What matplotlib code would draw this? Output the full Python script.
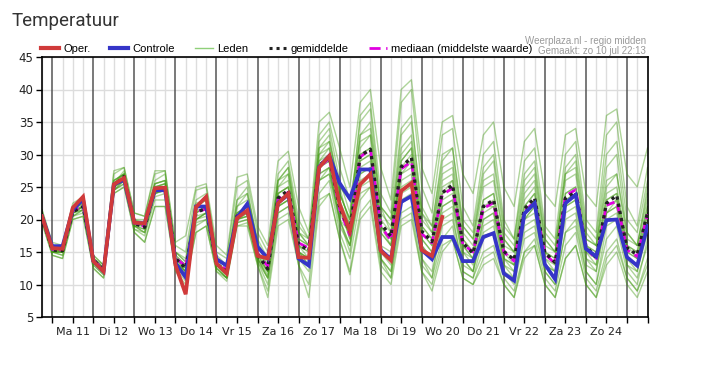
import numpy as np
import pandas as pd
import matplotlib
matplotlib.use("Agg")
import matplotlib.pyplot as plt
import matplotlib.dates as mdates
from matplotlib.lines import Line2D
from matplotlib.ticker import FuncFormatter

# 6-hourly steps, zo 10 jul 18:00 .. ma 25 jul 12:00
times = pd.date_range("2022-07-10 18:00", periods=60, freq="6h")

oper = [20.5, 15.6, 15.5, 21.8, 23.5, 13.6, 12.0, 25.4, 26.4, 19.5, 19.4, 24.8, 24.9, 13.0, 8.5,
        21.9, 23.5, 13.2, 11.7, 20.2, 21.4, 14.4, 14.0, 22.5, 24.0, 14.2, 14.1, 28.0, 29.8, 22.4,
        18.2, 25.4, 27.0, 15.2, 13.7, 24.4, 25.6, 15.3, 14.4, 20.4]

control = [20.5, 15.9, 15.9, 21.5, 23.1, 13.6, 12.0, 25.4, 26.1, 19.5, 19.4, 24.5, 24.5, 13.3, 11.1,
           22.0, 22.0, 13.9, 12.9, 20.3, 22.4, 15.8, 14.0, 22.6, 23.8, 14.0, 12.9, 28.1, 29.8, 25.6,
           23.2, 27.7, 27.7, 15.3, 13.9, 22.7, 23.6, 15.3, 13.9, 17.3, 17.3, 13.6, 13.6, 17.3, 17.9,
           11.7, 10.6, 20.9, 22.5, 13.1, 10.8, 22.5, 23.8, 15.5, 14.3, 19.9, 20.0, 14.2, 12.9, 19.0]

mean = [20.5, 15.3, 15.2, 21.2, 22.0, 13.8, 12.2, 25.2, 26.6, 19.4, 18.8, 24.6, 25.0, 14.0, 12.5,
        21.0, 21.8, 13.2, 12.0, 20.5, 21.4, 14.6, 12.4, 23.3, 24.5, 16.2, 15.2, 28.3, 29.6, 21.9,
        18.2, 29.8, 30.8, 19.4, 17.4, 28.1, 29.5, 18.2, 16.6, 24.1, 25.3, 16.4, 14.8, 22.0, 23.0,
        15.1, 13.8, 21.6, 23.3, 14.9, 13.4, 23.3, 24.2, 15.9, 14.1, 22.5, 23.7, 15.6, 14.6, 21.0]

median = [20.5, 15.4, 15.3, 21.3, 22.2, 13.8, 12.3, 25.3, 26.5, 19.5, 18.9, 24.5, 24.9, 14.1, 12.8,
          21.2, 21.6, 13.4, 12.2, 20.6, 21.2, 14.8, 12.8, 23.1, 24.2, 16.4, 15.6, 28.0, 29.4, 21.6,
          17.6, 29.6, 30.8, 19.0, 16.8, 27.8, 28.9, 17.8, 16.4, 23.8, 24.8, 16.2, 15.0, 21.7, 22.6,
          15.0, 13.6, 21.2, 22.8, 14.7, 13.2, 23.6, 24.6, 15.7, 13.8, 22.2, 22.8, 15.3, 14.3, 20.8]

# ensemble members ("Leden"), estimated from the plume
members = [
    [21, 16, 16, 22, 23, 14, 13, 26, 27, 20, 20, 26, 27, 15, 14,
     23, 24, 14, 13, 23, 25, 16, 13, 26, 28, 18, 16, 32, 34, 26,
     21, 35, 37, 22, 20, 34, 36, 21, 19, 29, 31, 19, 17, 27, 29,
     18, 16, 26, 28, 17, 15, 27, 29, 18, 16, 28, 30, 18, 16, 25],
    [20, 15, 14.5, 20.5, 21, 13, 11.5, 24.5, 25.5, 18.5, 17.5, 23, 23, 13, 11,
     19, 20, 12.5, 11, 19.5, 20, 13.5, 10, 21, 22, 14, 12, 24, 26, 18,
     14, 23, 25, 14, 12, 21, 22, 13, 11, 17, 19, 12, 11, 15, 16,
     11, 9, 15, 17, 11, 9, 16, 18, 11, 9, 15, 17, 11, 9, 14],
    [20.5, 16, 15.5, 21.5, 23, 13.5, 12, 25.5, 26, 19.5, 19.5, 24.5, 24.5, 13.5, 11.5,
     22, 22, 14, 13, 20.5, 22.5, 16, 14, 22.5, 24, 14, 13, 28, 30, 25,
     23, 27, 28, 15.5, 14, 22.5, 23.5, 15.5, 14, 17.5, 17.5, 13.5, 13.5, 17.5, 18,
     12, 10.5, 21, 22.5, 13, 11, 22.5, 24, 15.5, 14.5, 20, 20, 14, 13, 19],
    [21.5, 16, 15.5, 22, 23, 14.5, 13, 27, 28, 21, 20.5, 27, 27.5, 16, 15,
     24.5, 25, 15, 14, 25, 26, 18, 15, 27, 29, 20, 17, 33, 35, 28,
     23, 32, 33, 19, 16, 27, 29, 18, 16, 24, 26, 16, 14, 22, 23,
     15, 13, 22, 24, 15, 13, 23, 24, 16, 14, 23, 24, 16, 14, 21],
    [19.5, 14.5, 14, 20, 20.5, 12.5, 11, 24, 25, 18, 16.5, 22, 22, 12, 10,
     18, 19, 12, 10.5, 19, 19, 13, 8, 19, 20, 13, 8, 22, 24, 17,
     12, 21, 23, 13, 11, 20, 21, 12, 10, 16, 17, 11, 10, 14, 15,
     10, 8, 15, 16, 10, 8, 14, 16, 10, 8, 14, 16, 11, 9, 13],
    [21, 15.5, 15.5, 21.5, 22, 14, 12.5, 25.5, 27.5, 20, 19, 25.5, 26, 14.5, 13,
     21, 22, 13.5, 12, 21, 22, 15, 13, 25, 27, 17, 16, 31, 33, 24,
     20, 36, 38, 24, 21, 38, 40, 25, 21, 33, 34, 22, 19, 30, 32,
     20, 17, 29, 31, 19, 17, 30, 32, 20, 18, 33, 35, 22, 19, 28],
    [20, 15, 15, 21, 21.5, 13.5, 12, 25, 26, 19, 18.5, 24, 24.5, 14, 12.5,
     20, 21, 13, 11.5, 20, 21, 14.5, 12, 23, 24, 16, 15, 28, 29, 22,
     17, 30, 31, 19, 17, 28, 29, 18, 16, 24, 25, 16, 14, 21, 22,
     14, 13, 21, 23, 14, 13, 23, 24, 15, 14, 22, 23, 15, 14, 20],
    [20.5, 15.5, 15, 21, 22, 14, 12.5, 25, 26.5, 19.5, 19, 24.5, 25, 14, 12.5,
     21.5, 21.5, 13, 12, 20.5, 21, 14, 12, 24, 25, 15, 14, 27, 28, 20,
     16, 29, 30, 18, 16, 29, 31, 19, 17, 26, 27, 17, 15, 23, 24,
     16, 15, 22, 24, 15, 14, 24, 25, 16, 15, 24, 25, 16, 15, 22],
    [20, 15, 15, 21, 22, 13.5, 12, 24.5, 26, 19, 18, 24, 25, 13, 12,
     20, 21, 12.5, 11, 19.5, 20, 14, 11, 22, 23, 15, 13, 26, 27, 20,
     15, 26, 27, 15, 13, 25, 26, 16, 14, 21, 22, 14, 12, 19, 20,
     13, 11, 19, 20, 13, 11, 20, 21, 13, 12, 20, 21, 13, 12, 18],
    [21, 15.5, 15, 21.5, 22.5, 14, 12.5, 25.5, 27, 19.5, 19, 25, 25.5, 14.5, 13,
     22, 23, 14, 12.5, 22, 23, 16, 14, 25, 26, 18, 17, 30, 31, 24,
     20, 31, 33, 21, 19, 30, 32, 20, 18, 27, 28, 18, 16, 25, 26,
     17, 15, 24, 26, 16, 15, 26, 27, 17, 16, 26, 27, 17, 16, 24],
    [20.5, 15, 15, 21, 22, 13.5, 12, 25, 26, 19, 18.5, 24.5, 25, 13.5, 12,
     20.5, 21, 13, 11.5, 20, 21, 14.5, 12, 23, 24, 16, 15, 28, 29, 21,
     18, 28, 29, 19, 17, 27, 28, 17, 15, 23, 24, 15, 14, 22, 22,
     14, 13, 20, 22, 14, 12, 22, 23, 15, 13, 21, 23, 15, 14, 21],
    [20, 15, 14.5, 20.5, 21.5, 13, 11.5, 24.5, 25.5, 18.5, 18, 23.5, 24, 13, 11.5,
     19.5, 20, 12.5, 11, 20, 20.5, 13.5, 11, 21, 22, 15, 14, 26, 27, 19,
     16, 24, 25, 14, 12, 24, 25, 14, 12, 19, 20, 13, 12, 18, 19,
     12, 11, 18, 19, 12, 10, 18, 20, 12, 10, 17, 19, 12, 10, 17],
    [21, 16, 15.5, 22, 22.5, 14, 12, 26, 27, 19, 19.5, 25.5, 26, 14, 12,
     21, 22, 13, 12, 21, 22, 15, 12, 24, 25, 15, 13, 29, 31, 22,
     17, 25, 26, 14, 11, 23, 24, 14, 11, 20, 21, 12, 11, 17, 18,
     12, 10, 17, 18, 12, 10, 18, 19, 12, 10, 19, 20, 13, 11, 16],
    [20.5, 15.5, 15, 21, 22, 14, 12.5, 25.5, 26.5, 19.5, 19, 25, 25.5, 15, 13.5,
     22, 23, 14, 13, 22, 24, 17, 14, 26, 28, 19, 17, 30, 32, 25,
     19, 33, 35, 22, 18, 33, 35, 22, 19, 30, 31, 20, 18, 28, 30,
     19, 17, 27, 29, 18, 16, 28, 30, 19, 17, 30, 32, 20, 18, 26],
    [20, 15, 15, 21, 21.5, 13.5, 12, 25, 26, 19, 19, 24, 24.5, 13.5, 12,
     20, 21, 13, 11, 20, 20.5, 14, 11, 22, 23, 16, 14, 27, 28, 20,
     18, 29, 30, 18, 16, 28, 30, 17, 15, 22, 23, 15, 13, 20, 21,
     13, 12, 20, 21, 13, 12, 21, 22, 14, 13, 21, 22, 14, 13, 19],
    [21, 15.5, 15.5, 21.5, 22, 14, 12, 25.5, 27, 20, 19.5, 25, 25.5, 14, 12.5,
     21, 22, 13.5, 12, 21, 22, 15, 13, 24, 25, 17, 16, 29, 30, 23,
     19, 30, 31, 20, 18, 29, 31, 19, 17, 25, 26, 17, 15, 23, 24,
     15, 14, 23, 25, 15, 14, 24, 25, 16, 15, 23, 24, 16, 15, 22],
    [21.5, 16.5, 16, 22.5, 23.5, 14.5, 13, 27.5, 28, 21, 20.5, 27.5, 27.5, 16.5, 17.5,
     25, 25.5, 16, 14.5, 26.5, 27, 19, 16, 29, 30.5, 22, 18, 35, 36.5, 31,
     25, 38, 40, 28, 23, 40, 41.5, 28, 24, 35, 36, 27, 24, 33, 35,
     25, 22, 32, 34, 24, 22, 33, 34, 24, 22, 36, 37, 27, 25, 31],
    [19.5, 14.5, 14, 20, 20.5, 12.5, 11, 24, 25, 18, 16.5, 22, 22, 12.5, 10.5,
     18, 19, 12, 11, 19, 19.5, 13, 9, 20, 21, 13, 10, 23, 24, 17,
     11.5, 20, 22, 12, 10, 19, 20, 12, 9, 15, 17, 11, 10, 13, 14,
     10, 8, 14, 16, 10, 8, 14, 16, 10, 8, 13, 15, 10, 8, 12],
    [20.5, 15.5, 15.5, 21.5, 22.5, 14, 12.5, 26, 27, 19.5, 19.5, 25.5, 26, 15, 13.5,
     22.5, 23, 14.5, 13, 23, 24, 16.5, 13.5, 26, 27, 18, 16, 31, 32, 24,
     20, 33, 34, 22, 20, 31, 33, 21, 18, 28, 29, 19, 17, 26, 27,
     17, 15, 25, 27, 17, 15, 27, 28, 17, 16, 25, 27, 18, 16, 23],
    [20, 15, 15, 20.5, 21.5, 13.5, 12, 24.5, 26, 19, 18, 24, 24.5, 13.5, 12,
     20, 20.5, 13, 11.5, 20, 20.5, 14, 11.5, 22, 23, 15, 14, 26, 28, 20,
     16, 27, 28, 16, 15, 26, 27, 16, 14, 22, 23, 14, 12, 20, 21,
     14, 12, 20, 22, 13, 12, 22, 23, 14, 12, 21, 22, 14, 12, 19],
]

day_names = ["Ma", "Di", "Wo", "Do", "Vr", "Za", "Zo"]
last_label_day = 24

plt.rcParams["font.family"] = ["DejaVu Sans"]

fig = plt.figure(figsize=(7.23, 3.68), dpi=100)
ax = fig.add_axes([42 / 723, 1 - 317 / 368, 605.5 / 723, 260 / 368])

# vertical grid: light every 6h, dark at midnight
grid_times = pd.date_range(times[0], times[-1], freq="6h")
for gt in grid_times:
    if gt.hour == 0:
        ax.axvline(gt, color="#555555", lw=1.1, zorder=1)
    else:
        ax.axvline(gt, color="#dddddd", lw=1.0, zorder=0)
ax.yaxis.grid(True, color="#dddddd", lw=1.0, zorder=0)
ax.set_axisbelow(True)

for m in members:
    ax.plot(times, m, color="#3f9a0e", lw=1.0, alpha=0.42, zorder=2)

ax.plot(times, median, color="#e000e0", lw=2.0, dashes=(3, 2), zorder=3)
ax.plot(times, mean, color="#222222", lw=2.4, dashes=(1, 1.2), zorder=4)
ax.plot(times, control, color="#3535c8", lw=2.7, zorder=5, solid_joinstyle="miter")
ax.plot(times[:len(oper)], oper, color="#d03a3a", lw=2.7, zorder=6, solid_joinstyle="miter")

ax.set_xlim(times[0], times[-1])
ax.set_ylim(5, 45)
ax.set_yticks(np.arange(5, 46, 5))

ax.xaxis.set_major_locator(mdates.HourLocator(byhour=[12]))
ax.xaxis.set_minor_locator(mdates.HourLocator(byhour=[0]))


def day_label(x, pos):
    d = mdates.num2date(x)
    if d.day > last_label_day:
        return ""
    return "%s %d" % (day_names[d.weekday()], d.day)


ax.xaxis.set_major_formatter(FuncFormatter(day_label))
ax.tick_params(axis="both", which="both", direction="out", length=4, width=1,
               color="#000000", labelsize=8, labelcolor="#222222")
ax.tick_params(axis="x", which="major", pad=3)
ax.tick_params(axis="y", pad=2, labelsize=8.5)

for s in ax.spines.values():
    s.set_color("#000000")
    s.set_linewidth(1.2)

fig.text(12 / 723, 1 - 21 / 368, "Temperatuur", fontsize=13.5, color="#333333",
         family="Roboto", va="center", ha="left")
fig.text(646 / 723, 1 - 41 / 368, "Weerplaza.nl - regio midden", fontsize=7,
         color="#9a9a9a", family="Liberation Sans", ha="right", va="center")
fig.text(646 / 723, 1 - 51 / 368, "Gemaakt: zo 10 jul 22:13", fontsize=7,
         color="#9a9a9a", family="Liberation Sans", ha="right", va="center")

handles = [
    Line2D([], [], color="#d03a3a", lw=3),
    Line2D([], [], color="#3535c8", lw=3),
    Line2D([], [], color="#8fd07a", lw=1),
    Line2D([], [], color="#222222", lw=2.2, dashes=(1, 1.3)),
    Line2D([], [], color="#e000e0", lw=2.0, dashes=(4, 2, 1, 2)),
]
labels = ["Oper.", "Controle", "Leden", "gemiddelde", "mediaan (middelste waarde)"]
fig.legend(handles, labels, loc="center left", bbox_to_anchor=(41 / 723, 1 - 49 / 368),
           ncol=5, frameon=False, borderpad=0, borderaxespad=0, handlelength=1.6,
           handletextpad=0.4, columnspacing=1.8, prop={"family": "Liberation Sans", "size": 8})

fig.savefig("out.png", dpi=100)
